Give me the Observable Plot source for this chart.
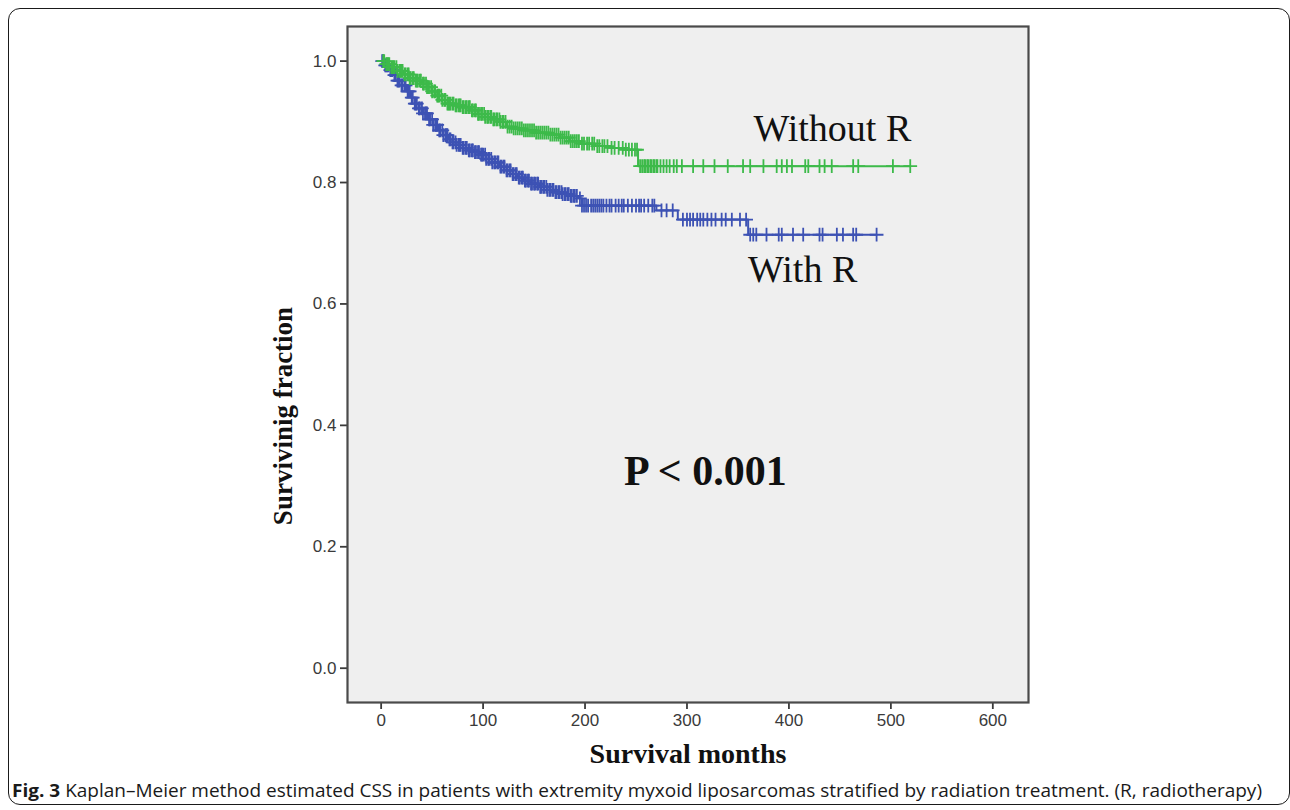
<!DOCTYPE html>
<html>
<head>
<meta charset="utf-8">
<script src="https://cdn.jsdelivr.net/npm/d3@7"></script>
<script src="https://cdn.jsdelivr.net/npm/@observablehq/plot@0.6"></script>
<style>
  html, body { margin: 0; padding: 0; background: #fff; }
  #wrap { position: relative; width: 1290px; height: 810px; overflow: hidden; }
  #border { position: absolute; left: 8px; top: 8px; width: 1282px; height: 797px;
            border: 1.6px solid #1a1a1a; border-radius: 12px; box-sizing: border-box; }
  #chart { position: absolute; left: 0; top: 0; }
  #ylabel { position: absolute; left: 283px; top: 416px; white-space: nowrap;
            transform: translate(-50%, -50%) rotate(-90deg);
            font-family: "Liberation Serif", "Times New Roman", serif; font-weight: bold;
            font-size: 27px; color: #111; line-height: 1; }
  #caption { position: absolute; left: 12px; top: 778px; white-space: nowrap; transform-origin: 0 50%;
             font-family: "Open Sans", "Noto Sans", sans-serif;
             font-size: 18px; color: #1a1a1a; }
  #caption b { font-weight: bold; }
</style>
</head>
<body>
<div id="wrap">
  <div id="border"></div>
  <div id="chart"></div>
  <div id="ylabel">Survivinig fraction</div>
  <div id="caption"><b>Fig. 3</b> Kaplan–Meier method estimated CSS in patients with extremity myxoid liposarcomas stratified by radiation treatment. (R, radiotherapy)</div>
</div>
<script>
// ---- Data ----
const groups = ["With R", "Without R"];
const groupColors = ["#3d52b4", "#3dba4a"];

// Kaplan–Meier steps: [month, surviving fraction]
const stepsWithR = [
  [0,1.0],[4,0.993],[8,0.985],[12,0.977],[16,0.968],[20,0.96],[25,0.95],[29,0.94],[33,0.93],
  [37,0.922],[41,0.914],[46,0.904],[51,0.895],[56,0.886],[61,0.878],[66,0.871],[70,0.866],
  [74,0.862],[80,0.857],[86,0.853],[92,0.85],[97,0.846],[103,0.839],[109,0.833],[116,0.826],
  [123,0.82],[129,0.814],[134,0.808],[140,0.803],[147,0.798],[155,0.793],[163,0.788],
  [170,0.784],[178,0.781],[185,0.778],[193,0.774],[197,0.762],[270,0.754],[291,0.739],[360,0.714]
];
const stepsWithoutR = [
  [0,1.0],[5,0.995],[10,0.99],[16,0.984],[22,0.978],[28,0.972],[34,0.968],[40,0.963],[45,0.957],
  [50,0.95],[55,0.943],[60,0.936],[65,0.93],[72,0.927],[80,0.924],[88,0.919],[95,0.913],
  [102,0.908],[110,0.904],[117,0.9],[123,0.892],[130,0.889],[140,0.886],[152,0.882],[165,0.879],
  [175,0.874],[185,0.868],[195,0.864],[210,0.86],[225,0.857],[240,0.854],[252,0.827]
];
// last follow-up (months)
const lastFollowUp = [486, 519];

// censored observations (months)
const censorWithR = [
  1,2,4,5,6,7,9,10,11,13,14,16,17,18,20,21,23,24,26,27,28,30,31,33,34,35,37,38,40,41,43,44,45,
  47,48,50,51,53,54,55,57,58,60,61,63,64,65,67,68,70,71,73,74,76,77,78,80,81,83,84,86,87,89,90,
  92,93,95,96,98,99,100,102,103,105,106,108,109,111,112,114,115,117,118,120,121,123,124,126,127,
  129,130,132,133,135,136,138,139,141,142,144,145,147,148,150,151,153,154,156,157,159,160,162,
  163,165,166,168,169,171,172,174,175,177,178,180,181,183,184,186,187,189,190,192,
  195,197,199,201,203,206,208,210,212,214,216,218,221,224,226,230,233,236,238,242,246,250,253,
  255,258,262,266,268,
  275,280,286,
  296,300,303,306,310,313,316,320,324,328,334,338,344,352,358,
  362,365,368,378,390,393,404,414,430,433,447,453,463,466,486
];
const censorWithoutR = [
  2,3,5,6,7,8,10,11,12,13,15,16,18,19,20,21,23,24,26,27,28,29,31,32,34,35,36,38,39,41,42,44,45,
  46,47,49,50,52,53,55,56,57,59,60,62,63,65,66,67,68,70,71,73,74,76,77,78,80,81,83,84,86,87,89,
  90,92,93,95,96,98,99,101,102,104,105,107,108,110,111,113,114,116,117,119,120,122,124,126,128,
  130,132,134,136,138,140,142,144,146,148,150,152,154,156,158,160,162,164,166,168,170,172,174,
  176,178,180,182,184,186,188,190,192,194,197,199,202,204,207,209,212,214,217,219,222,226,229,
  233,237,240,243,246,249,251,
  254,256,258,259,261,262,264,265,267,268,270,271,274,277,280,283,287,290,295,306,316,327,340,
  355,362,375,388,393,398,403,416,419,430,435,442,463,468,502,519
];

const xTicks = [0, 100, 200, 300, 400, 500, 600];
const yTicks = [0.0, 0.2, 0.4, 0.6, 0.8, 1.0];

const annotations = [
  {label: "Without R", month: 520, frac: 0.869},
  {label: "With R", month: 467, frac: 0.636}
];
const pValue = [{label: "P < 0.001", month: 318, frac: 0.301}];

// ---- Build tables ----
const stepSets = [stepsWithR, stepsWithoutR];
const censorSets = [censorWithR, censorWithoutR];

const lineRows = [];
const censorRows = [];
groups.forEach((g, i) => {
  const steps = stepSets[i];
  steps.forEach(([m, s]) => lineRows.push({group: g, month: m, frac: s}));
  lineRows.push({group: g, month: lastFollowUp[i], frac: steps[steps.length - 1][1]});
  const bis = d3.bisector(d => d[0]).right;
  censorSets[i].forEach(m => {
    const k = Math.max(0, bis(steps, m) - 1);
    censorRows.push({group: g, month: m, frac: steps[k][1]});
  });
});

const serif = "Liberation Serif, Times New Roman, serif";
const sans = "Liberation Sans, Arial, sans-serif";

const chart = Plot.plot({
  width: 1290,
  height: 772,
  marginLeft: 347,
  marginRight: 262,
  marginTop: 26,
  marginBottom: 70,
  style: {fontFamily: sans, background: "transparent", overflow: "visible"},
  x: {domain: [-33, 635]},
  y: {domain: [-0.0565, 1.057]},
  color: {domain: groups, range: groupColors},
  marks: [
    Plot.frame({fill: "#efefef"}),
    Plot.axisX(xTicks, {anchor: "bottom", tickSize: 7, tickPadding: 4, tickFormat: d => d,
      label: null, color: "#3a3a3a", strokeWidth: 1.8, fontSize: 17, fontFamily: sans}),
    Plot.axisY(yTicks, {anchor: "left", tickSize: 7, tickPadding: 4, tickFormat: d3.format(".1f"),
      label: null, color: "#3a3a3a", strokeWidth: 1.8, fontSize: 17, fontFamily: sans}),
    Plot.line(lineRows, {x: "month", y: "frac", z: "group", stroke: "group", curve: "step-after", strokeWidth: 2}),
    Plot.dot(censorRows, {x: "month", y: "frac", stroke: "group", symbol: "plus", r: 4.5, strokeWidth: 1.8}),
    Plot.frame({stroke: "#4a4a4a", strokeWidth: 2.2}),
    Plot.text(annotations, {x: "month", y: "frac", text: "label", textAnchor: "end", lineAnchor: "bottom",
      fontFamily: serif, fontSize: 38, fill: "#111"}),
    Plot.text(pValue, {x: "month", y: "frac", text: "label", textAnchor: "middle", lineAnchor: "bottom",
      fontFamily: serif, fontWeight: "bold", fontSize: 42, fill: "#111"}),
    Plot.text(["Survival months"], {frameAnchor: "bottom", dy: 60, dx: 0, lineAnchor: "bottom",
      fontFamily: serif, fontWeight: "bold", fontSize: 28, fill: "#111"})
  ]
});
document.getElementById("chart").appendChild(chart);

// fit caption to the width it spans in the reference
const cap = document.getElementById("caption");
const w = cap.getBoundingClientRect().width;
cap.style.transform = `scaleX(${1250 / w})`;
</script>
</body>
</html>
